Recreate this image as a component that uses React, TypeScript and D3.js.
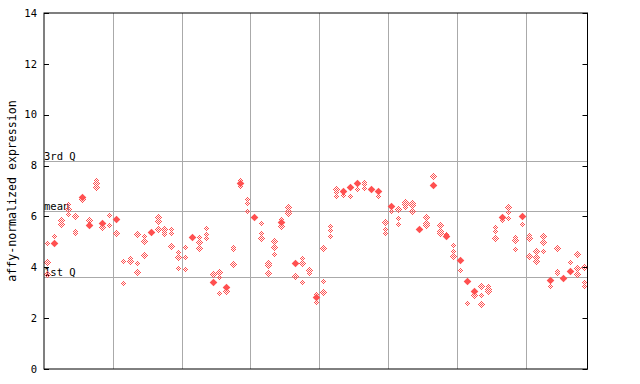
import React from "react";
import * as d3 from "d3";

// Per sample position (79 positions): hollow (dithered) markers and filled markers
const hollowValues: number[][] = [
  [4.94, 4.2, 3.73], [5.25], [5.86, 5.72], [6.5, 6.3, 6.1], [6.02, 5.44, 5.33],
  [6.67], [5.86], [7.43, 7.3, 7.14], [5.6], [6.04, 5.66],
  [5.33], [4.25, 3.37], [4.35, 4.25], [5.3, 4.15, 3.8], [5.23, 5.03, 4.5],
  [5.36], [5.96, 5.83, 5.52], [5.5, 5.4, 5.3], [5.49, 5.33, 4.84], [4.61, 4.42, 3.96],
  [4.81, 4.39, 3.92], [], [5.2, 4.98, 4.75], [5.53, 5.31, 5.14], [3.72],
  [3.8, 3.63, 2.98], [3.08], [4.78, 4.71, 4.12], [7.43, 7.21], [6.67, 6.51, 6.22],
  [], [5.73, 5.33, 5.14], [4.18, 4.1, 3.76], [5.03, 4.81, 4.51], [5.88, 5.64],
  [6.38, 6.21, 6.15], [3.66], [4.35, 4.15, 3.44], [3.89, 3.79], [2.94, 2.62],
  [4.75, 3.47, 3.02], [5.64, 5.47, 5.24], [7.08, 6.97, 6.82], [6.84], [6.82],
  [7.07], [7.37, 7.26, 7.13], [], [6.79], [5.8, 5.49, 5.33],
  [6.22], [6.29, 5.92, 5.69], [6.58, 6.49, 6.38], [6.54, 6.45, 6.21], [],
  [5.96, 5.75, 5.66], [7.58], [5.66, 5.43, 5.33], [5.3], [4.88, 4.63, 4.43],
  [3.88], [2.58], [2.9], [3.26, 2.9, 2.54], [3.26, 3.16, 3.06],
  [5.6, 5.43, 5.14], [5.86], [6.36, 6.16, 5.95], [5.18, 5.07, 4.72], [5.69],
  [5.26, 5.15, 4.43], [4.63, 4.42, 4.25], [5.23, 4.98, 4.63], [3.25], [4.76, 3.84, 3.76],
  [], [4.2], [4.51, 3.96, 3.75], [4.02, 3.44, 3.25],
];

const filledValues: number[][] = [
  [], [4.97], [], [], [],
  [6.75], [5.67], [], [5.73], [],
  [5.9], [], [], [], [],
  [5.4], [], [], [], [],
  [], [5.2], [], [], [3.43],
  [], [3.24], [], [7.3], [],
  [5.99], [], [], [], [5.79],
  [], [4.15], [], [], [2.84],
  [], [], [], [7.0], [7.17],
  [7.33], [], [7.09], [7.01], [],
  [6.42], [], [], [], [5.52],
  [], [7.25], [], [5.23], [],
  [4.29], [3.47], [3.08], [], [],
  [], [5.99], [], [], [6.03],
  [], [], [], [3.51], [],
  [3.59], [3.87], [], [],
];

const yTicks = [0, 2, 4, 6, 8, 10, 12, 14];
const groupSize = 10;
const refLines = [
  { label: "3rd Q", value: 8.19 },
  { label: "mean", value: 6.2 },
  { label: "1st Q", value: 3.61 },
];
const yTitle = "affy-normalized expression";

const RED = "#ff5050";
const GRID = "#aaaaaa";
const FONT = "'DejaVu Sans Mono', monospace";

export default function App() {
  const W = 640, H = 384;
  const left = 44, right = 587.5, top = 13, bottom = 369;
  const n = hollowValues.length;
  const x = d3.scaleLinear().domain([-0.5, n - 0.5]).range([left, right]);
  const y = d3.scaleLinear().domain([0, 14]).range([bottom, top]);

  const groupLines: number[] = [];
  for (let g = groupSize; g < n; g += groupSize) groupLines.push(g - 0.5);

  const diamond = (cx: number, cy: number, r: number) =>
    `M${cx},${cy - r}L${cx + r},${cy}L${cx},${cy + r}L${cx - r},${cy}Z`;

  return (
    <svg width={W} height={H} style={{ position: "absolute", left: 0, top: 0, background: "#fff" }}>
      <defs>
        <pattern id="chk" width={2} height={2} patternUnits="userSpaceOnUse">
          <rect x={0} y={0} width={1} height={1} fill={RED} />
          <rect x={1} y={1} width={1} height={1} fill={RED} />
        </pattern>
      </defs>
      <rect x={0} y={0} width={W} height={H} fill="#fff" />
      {groupLines.map((g, i) => (
        <line key={"g" + i} x1={Math.round(x(g)) + 0.5} x2={Math.round(x(g)) + 0.5} y1={top} y2={bottom} stroke={GRID} strokeWidth={1} />
      ))}
      {refLines.map((r, i) => (
        <g key={"r" + i}>
          <line x1={left} x2={right} y1={Math.round(y(r.value)) + 0.5} y2={Math.round(y(r.value)) + 0.5} stroke={GRID} strokeWidth={1} />
          <text x={left} y={Math.round(y(r.value)) - 1.5} fontFamily={FONT} fontSize={10.5} fill="#000">{r.label}</text>
        </g>
      ))}
      {hollowValues.map((vals, i) =>
        vals.map((v, j) => (
          <path key={"h" + i + "_" + j} d={diamond(Math.round(x(i)) + 0.5, Math.round(y(v)) + 0.5, 3.6)} fill="url(#chk)" stroke="none" shapeRendering="crispEdges" />
        ))
      )}
      {filledValues.map((vals, i) =>
        vals.map((v, j) => (
          <path key={"f" + i + "_" + j} d={diamond(Math.round(x(i)) + 0.5, Math.round(y(v)) + 0.5, 3.8)} fill={RED} stroke="none" />
        ))
      )}
      <rect x={left} y={top} width={right - left} height={bottom - top} fill="none" stroke="#000" strokeWidth={1} />
      {yTicks.map((t) => (
        <g key={"t" + t}>
          <line x1={left} x2={left + 5} y1={Math.round(y(t)) + 0.5} y2={Math.round(y(t)) + 0.5} stroke="#000" />
          <line x1={right - 5} x2={right} y1={Math.round(y(t)) + 0.5} y2={Math.round(y(t)) + 0.5} stroke="#000" />
          <text x={37} y={y(t)} dy="0.35em" textAnchor="end" fontFamily={FONT} fontSize={10.5} fill="#000">{t}</text>
        </g>
      ))}
      <text transform={`translate(12,${(top + bottom) / 2}) rotate(-90)`} textAnchor="middle" dy="0.35em" fontFamily={FONT} fontSize={11.6} fill="#000">{yTitle}</text>
    </svg>
  );
}
